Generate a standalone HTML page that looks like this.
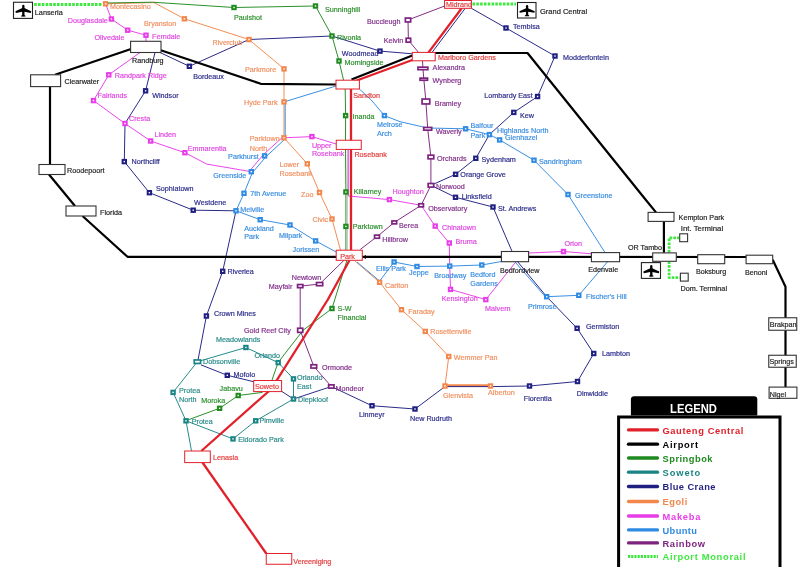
<!DOCTYPE html>
<html><head><meta charset="utf-8"><style>
html,body{margin:0;padding:0;background:#fff;width:800px;height:567px;overflow:hidden}
svg{display:block;font-family:"Liberation Sans",sans-serif;will-change:transform}
</style></head><body>
<svg width="800" height="567" viewBox="0 0 800 567">
<rect width="800" height="567" fill="#fff"/>
<polyline points="105.60,3.80 154.00,2.60 184.40,18.80 249.00,39.50 284.00,68.90 284.00,101.90 284.00,137.80 307.30,163.80 319.50,192.50 332.00,219.00 341.00,252.00" fill="none" stroke="#f2874c" stroke-width="0.95" stroke-linejoin="round" />
<polyline points="355.00,261.00 379.60,282.30 401.50,309.70 425.30,331.40 448.75,356.50 445.00,386.00 490.50,386.00" fill="none" stroke="#f2874c" stroke-width="0.95" stroke-linejoin="round" />
<polyline points="445.00,385.20 490.50,385.20" fill="none" stroke="#f2874c" stroke-width="2" stroke-linejoin="round" />
<polyline points="105.60,3.00 152.50,2.20 234.00,7.50 315.50,6.00 332.00,36.00 339.00,61.00 344.00,82.00" fill="none" stroke="#1f8a1f" stroke-width="0.95" stroke-linejoin="round" />
<polyline points="345.20,89.00 345.60,115.60 345.50,140.00" fill="none" stroke="#1f8a1f" stroke-width="0.95" stroke-linejoin="round" />
<polyline points="345.50,149.00 345.90,192.00 345.90,226.40 345.90,250.00" fill="none" stroke="#1f8a1f" stroke-width="0.95" stroke-linejoin="round" />
<polyline points="347.00,260.00 332.00,308.50 303.00,330.30 278.10,362.50 272.00,380.00" fill="none" stroke="#1f8a1f" stroke-width="0.95" stroke-linejoin="round" />
<polyline points="262.50,392.40 238.20,395.50 219.60,408.30 185.80,420.70" fill="none" stroke="#1f8a1f" stroke-width="0.95" stroke-linejoin="round" />
<polyline points="347.40,149.40 347.40,250.20" fill="none" stroke="#93a898" stroke-width="0.6" stroke-linejoin="round" />
<polyline points="197.40,361.70 245.90,347.50 278.20,362.60 293.50,378.90 293.50,399.00 255.70,420.80 233.00,438.90 186.00,420.80 173.10,392.40 197.40,361.70" fill="none" stroke="#1a8484" stroke-width="0.95" stroke-linejoin="round" />
<polyline points="186.00,420.80 191.50,451.00" fill="none" stroke="#1a8484" stroke-width="0.95" stroke-linejoin="round" />
<polyline points="155.00,52.50 145.60,90.80 125.00,123.50 124.30,161.60 149.40,192.70 193.20,210.20 236.00,210.80 222.70,271.30 206.40,316.00 198.00,360.00" fill="none" stroke="#1f1f82" stroke-width="0.95" stroke-linejoin="round" />
<polyline points="201.00,364.90 227.30,375.30 254.00,381.80" fill="none" stroke="#1f1f82" stroke-width="0.95" stroke-linejoin="round" />
<polyline points="281.60,391.30 293.50,399.00 331.30,386.50 372.00,405.75 415.00,409.00 445.00,386.50" fill="none" stroke="#1f1f82" stroke-width="0.95" stroke-linejoin="round" />
<polyline points="445.00,386.60 490.50,386.60 529.50,386.00 577.50,381.50 593.75,353.50 577.10,328.30 546.70,296.70 517.60,261.70" fill="none" stroke="#1f1f82" stroke-width="0.95" stroke-linejoin="round" />
<polyline points="512.30,252.00 493.00,207.00 455.50,197.30 431.00,185.30 455.60,174.30 475.80,158.30 489.40,134.60 513.80,112.40 537.60,96.50 555.00,56.00 506.00,28.00 471.40,8.30" fill="none" stroke="#1f1f82" stroke-width="0.95" stroke-linejoin="round" />
<polyline points="465.20,8.30 431.70,52.90" fill="none" stroke="#1f1f82" stroke-width="0.95" stroke-linejoin="round" />
<polyline points="412.30,53.80 380.00,51.10 332.00,36.00 249.00,39.50 189.40,66.30 160.00,52.50" fill="none" stroke="#1f1f82" stroke-width="0.95" stroke-linejoin="round" />
<polyline points="105.60,3.80 111.40,19.00 127.70,30.20 146.00,35.20 146.00,41.30" fill="none" stroke="#e83ce8" stroke-width="0.95" stroke-linejoin="round" />
<polyline points="140.00,52.50 108.80,74.80 93.50,100.60 125.00,123.50 150.60,141.00 184.90,152.70 206.80,164.10 251.30,171.70" fill="none" stroke="#e83ce8" stroke-width="0.95" stroke-linejoin="round" />
<polyline points="250.00,170.50 263.30,154.70 283.00,136.80" fill="none" stroke="#e83ce8" stroke-width="0.95" stroke-linejoin="round" />
<polyline points="284.00,137.80 311.90,136.60 336.20,144.00" fill="none" stroke="#e83ce8" stroke-width="0.95" stroke-linejoin="round" />
<polyline points="348.30,149.40 348.30,196.00 389.40,199.60 421.10,205.30 435.20,226.10 449.30,243.00 449.70,266.10 450.50,289.40 485.80,299.60 515.80,262.00" fill="none" stroke="#e83ce8" stroke-width="0.95" stroke-linejoin="round" />
<polyline points="528.60,253.00 563.50,251.50 591.40,253.80" fill="none" stroke="#e83ce8" stroke-width="0.95" stroke-linejoin="round" />
<polyline points="605.00,252.60 568.00,194.50 534.00,160.20 499.60,139.90 489.40,134.60 465.60,128.80 427.70,128.00 400.00,121.70 384.40,115.60 371.25,100.00 359.40,89.00" fill="none" stroke="#2e8ae2" stroke-width="0.95" stroke-linejoin="round" />
<polyline points="336.00,86.00 284.00,101.90" fill="none" stroke="#2e8ae2" stroke-width="0.95" stroke-linejoin="round" />
<polyline points="285.20,101.90 285.20,138.80" fill="none" stroke="#2e8ae2" stroke-width="0.95" stroke-linejoin="round" />
<polyline points="285.20,138.80 265.70,157.00 252.30,172.80 244.00,193.30 236.00,210.80 260.20,219.70 290.00,225.00 315.60,240.90 336.20,252.00" fill="none" stroke="#2e8ae2" stroke-width="0.95" stroke-linejoin="round" />
<polyline points="357.00,262.00 379.60,281.00 394.10,262.00 417.00,266.50 449.70,266.10 481.80,265.00 501.40,261.50" fill="none" stroke="#2e8ae2" stroke-width="0.95" stroke-linejoin="round" />
<polyline points="514.80,261.70 545.50,296.90 546.70,296.70 578.80,295.30 607.60,261.70" fill="none" stroke="#2e8ae2" stroke-width="0.95" stroke-linejoin="round" />
<polyline points="444.60,6.00 408.00,20.00 408.40,40.20 418.50,52.40" fill="none" stroke="#7c237f" stroke-width="0.95" stroke-linejoin="round" />
<polyline points="422.50,60.80 422.90,67.90 423.80,79.00 425.90,101.50 427.70,128.80 430.90,157.00 430.90,185.30 421.10,205.30 394.30,222.40 377.00,236.70 360.30,249.40" fill="none" stroke="#7c237f" stroke-width="0.95" stroke-linejoin="round" />
<polyline points="344.00,260.30 319.60,284.10 300.20,286.10 300.20,330.30 313.80,366.40 331.30,386.50" fill="none" stroke="#7c237f" stroke-width="0.95" stroke-linejoin="round" />
<polyline points="55.00,74.80 131.00,49.00" fill="none" stroke="#000" stroke-width="2.2" stroke-linejoin="round" />
<polyline points="160.00,50.00 260.80,83.80 336.00,84.50" fill="none" stroke="#000" stroke-width="2.2" stroke-linejoin="round" />
<polyline points="351.50,79.40 412.30,55.60" fill="none" stroke="#000" stroke-width="2.2" stroke-linejoin="round" />
<polyline points="435.00,53.00 527.50,53.00 645.90,200.00 656.00,212.40" fill="none" stroke="#000" stroke-width="2.2" stroke-linejoin="round" />
<polyline points="663.90,221.40 663.90,252.90" fill="none" stroke="#000" stroke-width="2.2" stroke-linejoin="round" />
<polyline points="50.00,86.60 50.00,164.50" fill="none" stroke="#000" stroke-width="2.2" stroke-linejoin="round" />
<polyline points="49.00,174.50 75.00,206.00" fill="none" stroke="#000" stroke-width="2.2" stroke-linejoin="round" />
<polyline points="82.50,216.00 127.50,256.80 772.70,257.00" fill="none" stroke="#000" stroke-width="2.2" stroke-linejoin="round" />
<polyline points="772.70,259.70 785.50,286.70 785.50,387.00" fill="none" stroke="#000" stroke-width="2.2" stroke-linejoin="round" />
<polyline points="461.70,8.30 428.20,52.90" fill="none" stroke="#e2202a" stroke-width="2.3" stroke-linejoin="round" />
<polyline points="412.30,60.00 354.10,81.50" fill="none" stroke="#e2202a" stroke-width="2.3" stroke-linejoin="round" />
<polyline points="351.00,89.00 351.00,250.20" fill="none" stroke="#e2202a" stroke-width="2.3" stroke-linejoin="round" />
<polyline points="349.50,260.30 327.60,300.00 277.30,379.40 268.50,391.50 201.30,451.00" fill="none" stroke="#e2202a" stroke-width="2.3" stroke-linejoin="round" />
<polyline points="202.50,462.50 266.25,553.50" fill="none" stroke="#e2202a" stroke-width="2.3" stroke-linejoin="round" />
<polyline points="34.20,4.50 102.00,4.50" fill="none" stroke="#3ee83e" stroke-width="2.8" stroke-linejoin="round" stroke-dasharray="2.6,1.2"/>
<polyline points="472.50,4.00 516.00,4.00" fill="none" stroke="#3ee83e" stroke-width="2.8" stroke-linejoin="round" stroke-dasharray="2.6,1.2"/>
<polyline points="679.70,237.80 669.10,237.80 669.10,252.90" fill="none" stroke="#3ee83e" stroke-width="2.8" stroke-linejoin="round" stroke-dasharray="2.6,1.2"/>
<polyline points="669.10,261.30 669.10,277.70 679.70,277.70" fill="none" stroke="#3ee83e" stroke-width="2.8" stroke-linejoin="round" stroke-dasharray="2.6,1.2"/>
<rect x="130.60" y="41.30" width="30.40" height="11.20" fill="#fff" stroke="#333" stroke-width="1.1"/>
<rect x="30.60" y="74.80" width="30.00" height="11.80" fill="#fff" stroke="#333" stroke-width="1.1"/>
<rect x="39.00" y="164.50" width="26.00" height="10.00" fill="#fff" stroke="#333" stroke-width="1.1"/>
<rect x="66.00" y="206.00" width="30.00" height="10.00" fill="#fff" stroke="#333" stroke-width="1.1"/>
<rect x="501.40" y="251.50" width="27.20" height="10.20" fill="#fff" stroke="#333" stroke-width="1.1"/>
<rect x="591.40" y="252.60" width="28.20" height="9.10" fill="#fff" stroke="#333" stroke-width="1.1"/>
<rect x="648.10" y="212.40" width="25.90" height="9.00" fill="#fff" stroke="#333" stroke-width="1.1"/>
<rect x="652.70" y="252.90" width="23.60" height="8.40" fill="#fff" stroke="#333" stroke-width="1.1"/>
<rect x="697.70" y="254.70" width="27.00" height="9.00" fill="#fff" stroke="#333" stroke-width="1.1"/>
<rect x="746.10" y="255.20" width="26.60" height="8.50" fill="#fff" stroke="#333" stroke-width="1.1"/>
<rect x="768.75" y="317.75" width="28.00" height="12.50" fill="#fff" stroke="#333" stroke-width="1.1"/>
<rect x="768.75" y="355.25" width="27.50" height="12.00" fill="#fff" stroke="#333" stroke-width="1.1"/>
<rect x="769.10" y="387.10" width="27.80" height="11.20" fill="#fff" stroke="#333" stroke-width="1.1"/>
<rect x="679.70" y="233.80" width="7.90" height="7.90" fill="#fff" stroke="#333" stroke-width="1.1"/>
<rect x="680.40" y="273.20" width="7.80" height="7.90" fill="#fff" stroke="#333" stroke-width="1.1"/>
<rect x="444.60" y="0.50" width="26.80" height="7.80" fill="#fff" stroke="#e2202a" stroke-width="1"/>
<rect x="412.30" y="52.40" width="22.90" height="8.40" fill="#fff" stroke="#e2202a" stroke-width="1"/>
<rect x="336.00" y="80.20" width="23.40" height="8.80" fill="#fff" stroke="#e2202a" stroke-width="1"/>
<rect x="336.25" y="140.25" width="25.00" height="9.15" fill="#fff" stroke="#e2202a" stroke-width="1"/>
<rect x="336.20" y="250.20" width="26.10" height="10.10" fill="#fff" stroke="#e2202a" stroke-width="1"/>
<rect x="253.70" y="380.50" width="27.90" height="11.10" fill="#fff" stroke="#e2202a" stroke-width="1"/>
<rect x="184.70" y="451.00" width="25.60" height="11.60" fill="#fff" stroke="#e2202a" stroke-width="1"/>
<rect x="266.25" y="553.50" width="25.50" height="10.75" fill="#fff" stroke="#e2202a" stroke-width="1"/>
<path d="M362.2,257 L366,254.9 L366,259.1 Z" fill="#000"/>
<rect x="13.50" y="2.25" width="19.00" height="16.15" fill="#fff" stroke="#222" stroke-width="1.1"/>
<g transform="translate(13.50,2.25) scale(0.969,0.979)" fill="#000">
<path d="M8.95,4 Q8.95,2.6 10.15,2.6 Q11.35,2.6 11.35,4 L11.35,14.4 L8.95,14.4 Z"/>
<path d="M9.1,6.0 L2.0,9.3 L2.4,11.0 L9.1,9.8 L11.1,9.8 L17.9,11.0 L18.3,9.3 L11.1,6.0 Z"/>
<path d="M9.4,12.9 L7.8,13.8 L7.8,14.6 L12.4,14.6 L12.4,13.8 L10.8,12.9 Z"/>
</g>
<rect x="517.50" y="2.50" width="18.50" height="15.50" fill="#fff" stroke="#222" stroke-width="1.1"/>
<g transform="translate(517.50,2.50) scale(0.944,0.939)" fill="#000">
<path d="M8.95,4 Q8.95,2.6 10.15,2.6 Q11.35,2.6 11.35,4 L11.35,14.4 L8.95,14.4 Z"/>
<path d="M9.1,6.0 L2.0,9.3 L2.4,11.0 L9.1,9.8 L11.1,9.8 L17.9,11.0 L18.3,9.3 L11.1,6.0 Z"/>
<path d="M9.4,12.9 L7.8,13.8 L7.8,14.6 L12.4,14.6 L12.4,13.8 L10.8,12.9 Z"/>
</g>
<rect x="641.40" y="262.60" width="19.10" height="15.80" fill="#fff" stroke="#222" stroke-width="1.1"/>
<g transform="translate(641.40,262.60) scale(0.974,0.958)" fill="#000">
<path d="M8.95,4 Q8.95,2.6 10.15,2.6 Q11.35,2.6 11.35,4 L11.35,14.4 L8.95,14.4 Z"/>
<path d="M9.1,6.0 L2.0,9.3 L2.4,11.0 L9.1,9.8 L11.1,9.8 L17.9,11.0 L18.3,9.3 L11.1,6.0 Z"/>
<path d="M9.4,12.9 L7.8,13.8 L7.8,14.6 L12.4,14.6 L12.4,13.8 L10.8,12.9 Z"/>
</g>
<rect x="103.90" y="2.10" width="3.40" height="3.40" fill="#fff" stroke="#f2874c" stroke-width="2.0"/>
<rect x="182.70" y="17.10" width="3.40" height="3.40" fill="#fff" stroke="#f2874c" stroke-width="2.0"/>
<rect x="247.30" y="37.80" width="3.40" height="3.40" fill="#fff" stroke="#f2874c" stroke-width="2.0"/>
<rect x="282.30" y="67.20" width="3.40" height="3.40" fill="#fff" stroke="#f2874c" stroke-width="2.0"/>
<rect x="282.30" y="100.20" width="3.40" height="3.40" fill="#fff" stroke="#f2874c" stroke-width="2.0"/>
<rect x="282.30" y="136.10" width="3.40" height="3.40" fill="#fff" stroke="#f2874c" stroke-width="2.0"/>
<rect x="305.60" y="162.10" width="3.40" height="3.40" fill="#fff" stroke="#f2874c" stroke-width="2.0"/>
<rect x="317.80" y="190.80" width="3.40" height="3.40" fill="#fff" stroke="#f2874c" stroke-width="2.0"/>
<rect x="330.30" y="217.30" width="3.40" height="3.40" fill="#fff" stroke="#f2874c" stroke-width="2.0"/>
<rect x="377.90" y="280.60" width="3.40" height="3.40" fill="#fff" stroke="#f2874c" stroke-width="2.0"/>
<rect x="399.80" y="308.00" width="3.40" height="3.40" fill="#fff" stroke="#f2874c" stroke-width="2.0"/>
<rect x="423.60" y="329.70" width="3.40" height="3.40" fill="#fff" stroke="#f2874c" stroke-width="2.0"/>
<rect x="447.05" y="354.80" width="3.40" height="3.40" fill="#fff" stroke="#f2874c" stroke-width="2.0"/>
<rect x="443.30" y="384.30" width="3.40" height="3.40" fill="#fff" stroke="#f2874c" stroke-width="2.0"/>
<rect x="488.80" y="384.30" width="3.40" height="3.40" fill="#fff" stroke="#f2874c" stroke-width="2.0"/>
<rect x="232.30" y="5.80" width="3.40" height="3.40" fill="#fff" stroke="#1f8a1f" stroke-width="2.0"/>
<rect x="313.80" y="4.30" width="3.40" height="3.40" fill="#fff" stroke="#1f8a1f" stroke-width="2.0"/>
<rect x="330.30" y="34.30" width="3.40" height="3.40" fill="#fff" stroke="#1f8a1f" stroke-width="2.0"/>
<rect x="337.30" y="59.30" width="3.40" height="3.40" fill="#fff" stroke="#1f8a1f" stroke-width="2.0"/>
<rect x="343.90" y="113.90" width="3.40" height="3.40" fill="#fff" stroke="#1f8a1f" stroke-width="2.0"/>
<rect x="344.20" y="190.30" width="3.40" height="3.40" fill="#fff" stroke="#1f8a1f" stroke-width="2.0"/>
<rect x="344.20" y="224.70" width="3.40" height="3.40" fill="#fff" stroke="#1f8a1f" stroke-width="2.0"/>
<rect x="330.30" y="306.80" width="3.40" height="3.40" fill="#fff" stroke="#1f8a1f" stroke-width="2.0"/>
<rect x="236.50" y="393.80" width="3.40" height="3.40" fill="#fff" stroke="#1f8a1f" stroke-width="2.0"/>
<rect x="217.90" y="406.60" width="3.40" height="3.40" fill="#fff" stroke="#1f8a1f" stroke-width="2.0"/>
<rect x="244.20" y="345.80" width="3.40" height="3.40" fill="#fff" stroke="#1a8484" stroke-width="2.0"/>
<rect x="276.50" y="360.90" width="3.40" height="3.40" fill="#fff" stroke="#1a8484" stroke-width="2.0"/>
<rect x="291.80" y="377.20" width="3.40" height="3.40" fill="#fff" stroke="#1a8484" stroke-width="2.0"/>
<rect x="291.80" y="397.30" width="3.40" height="3.40" fill="#fff" stroke="#1a8484" stroke-width="2.0"/>
<rect x="254.00" y="419.10" width="3.40" height="3.40" fill="#fff" stroke="#1a8484" stroke-width="2.0"/>
<rect x="231.30" y="437.20" width="3.40" height="3.40" fill="#fff" stroke="#1a8484" stroke-width="2.0"/>
<rect x="184.30" y="419.10" width="3.40" height="3.40" fill="#fff" stroke="#1a8484" stroke-width="2.0"/>
<rect x="171.40" y="390.70" width="3.40" height="3.40" fill="#fff" stroke="#1a8484" stroke-width="2.0"/>
<rect x="194.25" y="359.95" width="6.30" height="3.50" fill="#fff" stroke="#1a8484" stroke-width="1.70"/>
<rect x="187.70" y="64.60" width="3.40" height="3.40" fill="#fff" stroke="#1f1f82" stroke-width="2.0"/>
<rect x="143.90" y="89.10" width="3.40" height="3.40" fill="#fff" stroke="#1f1f82" stroke-width="2.0"/>
<rect x="122.60" y="159.90" width="3.40" height="3.40" fill="#fff" stroke="#1f1f82" stroke-width="2.0"/>
<rect x="147.70" y="191.00" width="3.40" height="3.40" fill="#fff" stroke="#1f1f82" stroke-width="2.0"/>
<rect x="191.50" y="208.50" width="3.40" height="3.40" fill="#fff" stroke="#1f1f82" stroke-width="2.0"/>
<rect x="221.00" y="269.60" width="3.40" height="3.40" fill="#fff" stroke="#1f1f82" stroke-width="2.0"/>
<rect x="204.70" y="314.30" width="3.40" height="3.40" fill="#fff" stroke="#1f1f82" stroke-width="2.0"/>
<rect x="225.60" y="373.60" width="3.40" height="3.40" fill="#fff" stroke="#1f1f82" stroke-width="2.0"/>
<rect x="378.30" y="49.40" width="3.40" height="3.40" fill="#fff" stroke="#1f1f82" stroke-width="2.0"/>
<rect x="504.30" y="26.30" width="3.40" height="3.40" fill="#fff" stroke="#1f1f82" stroke-width="2.0"/>
<rect x="553.30" y="54.30" width="3.40" height="3.40" fill="#fff" stroke="#1f1f82" stroke-width="2.0"/>
<rect x="535.90" y="94.80" width="3.40" height="3.40" fill="#fff" stroke="#1f1f82" stroke-width="2.0"/>
<rect x="512.10" y="110.70" width="3.40" height="3.40" fill="#fff" stroke="#1f1f82" stroke-width="2.0"/>
<rect x="474.10" y="156.60" width="3.40" height="3.40" fill="#fff" stroke="#1f1f82" stroke-width="2.0"/>
<rect x="453.90" y="172.60" width="3.40" height="3.40" fill="#fff" stroke="#1f1f82" stroke-width="2.0"/>
<rect x="453.80" y="195.60" width="3.40" height="3.40" fill="#fff" stroke="#1f1f82" stroke-width="2.0"/>
<rect x="491.30" y="205.30" width="3.40" height="3.40" fill="#fff" stroke="#1f1f82" stroke-width="2.0"/>
<rect x="575.40" y="326.60" width="3.40" height="3.40" fill="#fff" stroke="#1f1f82" stroke-width="2.0"/>
<rect x="592.05" y="351.80" width="3.40" height="3.40" fill="#fff" stroke="#1f1f82" stroke-width="2.0"/>
<rect x="575.80" y="379.80" width="3.40" height="3.40" fill="#fff" stroke="#1f1f82" stroke-width="2.0"/>
<rect x="527.80" y="384.30" width="3.40" height="3.40" fill="#fff" stroke="#1f1f82" stroke-width="2.0"/>
<rect x="370.30" y="404.05" width="3.40" height="3.40" fill="#fff" stroke="#1f1f82" stroke-width="2.0"/>
<rect x="413.30" y="407.30" width="3.40" height="3.40" fill="#fff" stroke="#1f1f82" stroke-width="2.0"/>
<rect x="109.70" y="17.30" width="3.40" height="3.40" fill="#fff" stroke="#e83ce8" stroke-width="2.0"/>
<rect x="126.00" y="28.50" width="3.40" height="3.40" fill="#fff" stroke="#e83ce8" stroke-width="2.0"/>
<rect x="144.30" y="33.50" width="3.40" height="3.40" fill="#fff" stroke="#e83ce8" stroke-width="2.0"/>
<rect x="107.10" y="73.10" width="3.40" height="3.40" fill="#fff" stroke="#e83ce8" stroke-width="2.0"/>
<rect x="91.80" y="98.90" width="3.40" height="3.40" fill="#fff" stroke="#e83ce8" stroke-width="2.0"/>
<rect x="123.30" y="121.80" width="3.40" height="3.40" fill="#fff" stroke="#e83ce8" stroke-width="2.0"/>
<rect x="148.90" y="139.30" width="3.40" height="3.40" fill="#fff" stroke="#e83ce8" stroke-width="2.0"/>
<rect x="183.20" y="151.00" width="3.40" height="3.40" fill="#fff" stroke="#e83ce8" stroke-width="2.0"/>
<rect x="310.20" y="134.90" width="3.40" height="3.40" fill="#fff" stroke="#e83ce8" stroke-width="2.0"/>
<rect x="387.70" y="197.90" width="3.40" height="3.40" fill="#fff" stroke="#e83ce8" stroke-width="2.0"/>
<rect x="433.50" y="224.40" width="3.40" height="3.40" fill="#fff" stroke="#e83ce8" stroke-width="2.0"/>
<rect x="447.60" y="241.30" width="3.40" height="3.40" fill="#fff" stroke="#e83ce8" stroke-width="2.0"/>
<rect x="448.80" y="287.70" width="3.40" height="3.40" fill="#fff" stroke="#e83ce8" stroke-width="2.0"/>
<rect x="484.10" y="297.90" width="3.40" height="3.40" fill="#fff" stroke="#e83ce8" stroke-width="2.0"/>
<rect x="561.80" y="249.80" width="3.40" height="3.40" fill="#fff" stroke="#e83ce8" stroke-width="2.0"/>
<rect x="249.60" y="170.00" width="3.40" height="3.40" fill="#fff" stroke="#2e8ae2" stroke-width="2.0"/>
<rect x="262.90" y="154.20" width="3.40" height="3.40" fill="#fff" stroke="#2e8ae2" stroke-width="2.0"/>
<rect x="242.30" y="191.60" width="3.40" height="3.40" fill="#fff" stroke="#2e8ae2" stroke-width="2.0"/>
<rect x="234.30" y="209.10" width="3.40" height="3.40" fill="#fff" stroke="#2e8ae2" stroke-width="2.0"/>
<rect x="258.50" y="218.00" width="3.40" height="3.40" fill="#fff" stroke="#2e8ae2" stroke-width="2.0"/>
<rect x="288.30" y="223.30" width="3.40" height="3.40" fill="#fff" stroke="#2e8ae2" stroke-width="2.0"/>
<rect x="313.90" y="239.20" width="3.40" height="3.40" fill="#fff" stroke="#2e8ae2" stroke-width="2.0"/>
<rect x="382.70" y="113.90" width="3.40" height="3.40" fill="#fff" stroke="#2e8ae2" stroke-width="2.0"/>
<rect x="463.90" y="127.10" width="3.40" height="3.40" fill="#fff" stroke="#2e8ae2" stroke-width="2.0"/>
<rect x="487.70" y="132.90" width="3.40" height="3.40" fill="#fff" stroke="#2e8ae2" stroke-width="2.0"/>
<rect x="497.90" y="138.20" width="3.40" height="3.40" fill="#fff" stroke="#2e8ae2" stroke-width="2.0"/>
<rect x="532.30" y="158.50" width="3.40" height="3.40" fill="#fff" stroke="#2e8ae2" stroke-width="2.0"/>
<rect x="566.30" y="192.80" width="3.40" height="3.40" fill="#fff" stroke="#2e8ae2" stroke-width="2.0"/>
<rect x="392.40" y="260.30" width="3.40" height="3.40" fill="#fff" stroke="#2e8ae2" stroke-width="2.0"/>
<rect x="415.30" y="264.80" width="3.40" height="3.40" fill="#fff" stroke="#2e8ae2" stroke-width="2.0"/>
<rect x="448.00" y="264.40" width="3.40" height="3.40" fill="#fff" stroke="#2e8ae2" stroke-width="2.0"/>
<rect x="480.10" y="263.30" width="3.40" height="3.40" fill="#fff" stroke="#2e8ae2" stroke-width="2.0"/>
<rect x="545.00" y="295.00" width="3.40" height="3.40" fill="#fff" stroke="#2e8ae2" stroke-width="2.0"/>
<rect x="577.10" y="293.60" width="3.40" height="3.40" fill="#fff" stroke="#2e8ae2" stroke-width="2.0"/>
<rect x="405.35" y="18.05" width="5.30" height="3.90" fill="#fff" stroke="#7c237f" stroke-width="1.70"/>
<rect x="406.15" y="38.25" width="4.50" height="3.90" fill="#fff" stroke="#7c237f" stroke-width="1.70"/>
<rect x="417.95" y="67.15" width="9.90" height="2.50" fill="#fff" stroke="#7c237f" stroke-width="1.70"/>
<rect x="420.05" y="78.15" width="7.50" height="2.10" fill="#fff" stroke="#7c237f" stroke-width="1.70"/>
<rect x="422.05" y="99.05" width="7.70" height="4.90" fill="#fff" stroke="#7c237f" stroke-width="1.70"/>
<rect x="423.70" y="127.45" width="8.00" height="2.70" fill="#fff" stroke="#7c237f" stroke-width="1.70"/>
<rect x="428.05" y="155.20" width="5.70" height="3.60" fill="#fff" stroke="#7c237f" stroke-width="1.70"/>
<rect x="428.15" y="183.50" width="5.50" height="3.60" fill="#fff" stroke="#7c237f" stroke-width="1.70"/>
<rect x="418.75" y="203.75" width="4.70" height="3.10" fill="#fff" stroke="#7c237f" stroke-width="1.70"/>
<rect x="391.95" y="220.95" width="4.70" height="2.90" fill="#fff" stroke="#7c237f" stroke-width="1.70"/>
<rect x="374.55" y="235.15" width="4.90" height="3.10" fill="#fff" stroke="#7c237f" stroke-width="1.70"/>
<rect x="316.50" y="282.50" width="6.20" height="3.20" fill="#fff" stroke="#7c237f" stroke-width="1.70"/>
<rect x="297.55" y="284.55" width="5.30" height="3.10" fill="#fff" stroke="#7c237f" stroke-width="1.70"/>
<rect x="297.65" y="328.25" width="5.10" height="4.10" fill="#fff" stroke="#7c237f" stroke-width="1.70"/>
<rect x="310.95" y="364.75" width="5.70" height="3.30" fill="#fff" stroke="#7c237f" stroke-width="1.70"/>
<rect x="328.65" y="384.85" width="5.30" height="3.30" fill="#fff" stroke="#7c237f" stroke-width="1.70"/>
<text x="34.80" y="15.30" fill="#1e1e1e" stroke="#1e1e1e" stroke-width="0.18" font-size="7.3" >Lanseria</text>
<text x="540.00" y="13.80" fill="#1e1e1e" stroke="#1e1e1e" stroke-width="0.18" font-size="7.5" >Grand Central</text>
<text x="132.00" y="62.70" fill="#1e1e1e" stroke="#1e1e1e" stroke-width="0.18" font-size="7.2" >Randburg</text>
<text x="64.50" y="83.60" fill="#1e1e1e" stroke="#1e1e1e" stroke-width="0.18" font-size="7.2" >Clearwater</text>
<text x="67.00" y="172.60" fill="#1e1e1e" stroke="#1e1e1e" stroke-width="0.18" font-size="7.2" >Roodepoort</text>
<text x="100.00" y="214.60" fill="#1e1e1e" stroke="#1e1e1e" stroke-width="0.18" font-size="7.2" >Florida</text>
<text x="500.00" y="273.20" fill="#1e1e1e" stroke="#1e1e1e" stroke-width="0.18" font-size="7.2" >Bedfordview</text>
<text x="588.20" y="272.00" fill="#1e1e1e" stroke="#1e1e1e" stroke-width="0.18" font-size="7.2" >Edenvale</text>
<text x="627.90" y="250.20" fill="#1e1e1e" stroke="#1e1e1e" stroke-width="0.18" font-size="7.2" >OR Tambo</text>
<text x="678.60" y="219.60" fill="#1e1e1e" stroke="#1e1e1e" stroke-width="0.18" font-size="7.2" >Kempton Park</text>
<text x="680.80" y="230.90" fill="#1e1e1e" stroke="#1e1e1e" stroke-width="0.18" font-size="7.8" >Int. Terminal</text>
<text x="680.40" y="290.50" fill="#1e1e1e" stroke="#1e1e1e" stroke-width="0.18" font-size="7.25" >Dom. Terminal</text>
<text x="695.90" y="273.90" fill="#1e1e1e" stroke="#1e1e1e" stroke-width="0.18" font-size="7.2" >Boksburg</text>
<text x="745.00" y="275.00" fill="#1e1e1e" stroke="#1e1e1e" stroke-width="0.18" font-size="7.2" >Benoni</text>
<text x="769.80" y="327.00" fill="#1e1e1e" stroke="#1e1e1e" stroke-width="0.18" font-size="7.2" >Brakpan</text>
<text x="769.50" y="364.00" fill="#1e1e1e" stroke="#1e1e1e" stroke-width="0.18" font-size="7.2" >Springs</text>
<text x="769.80" y="396.60" fill="#1e1e1e" stroke="#1e1e1e" stroke-width="0.18" font-size="7.2" >Nigel</text>
<text x="446.00" y="7.20" fill="#e23a3a" stroke="#e23a3a" stroke-width="0.18" font-size="7.2" >Midrand</text>
<text x="437.90" y="60.30" fill="#e23a3a" stroke="#e23a3a" stroke-width="0.18" font-size="7.2" >Marlboro Gardens</text>
<text x="353.20" y="97.50" fill="#e23a3a" stroke="#e23a3a" stroke-width="0.18" font-size="7.2" >Sandton</text>
<text x="354.40" y="157.00" fill="#e23a3a" stroke="#e23a3a" stroke-width="0.18" font-size="7.2" >Rosebank</text>
<text x="340.20" y="258.50" fill="#e23a3a" stroke="#e23a3a" stroke-width="0.18" font-size="7.2" >Park</text>
<text x="255.00" y="389.20" fill="#e23a3a" stroke="#e23a3a" stroke-width="0.18" font-size="7.2" >Soweto</text>
<text x="213.00" y="459.50" fill="#e23a3a" stroke="#e23a3a" stroke-width="0.18" font-size="7.2" >Lenasia</text>
<text x="293.25" y="563.50" fill="#e23a3a" stroke="#e23a3a" stroke-width="0.18" font-size="7.2" >Vereeniging</text>
<text x="110.00" y="9.00" fill="#f09060" stroke="#f09060" stroke-width="0.18" font-size="7.2" >Montecasino</text>
<text x="144.00" y="25.70" fill="#f09060" stroke="#f09060" stroke-width="0.18" font-size="7.2" >Bryanston</text>
<text x="212.50" y="44.50" fill="#f09060" stroke="#f09060" stroke-width="0.18" font-size="7.2" >Riverclub</text>
<text x="245.00" y="72.10" fill="#f09060" stroke="#f09060" stroke-width="0.18" font-size="7.2" >Parkmore</text>
<text x="244.00" y="105.40" fill="#f09060" stroke="#f09060" stroke-width="0.18" font-size="7.2" >Hyde Park</text>
<text x="249.75" y="141.00" fill="#f09060" stroke="#f09060" stroke-width="0.18" font-size="7.2" >Parktown</text>
<text x="249.75" y="150.60" fill="#f09060" stroke="#f09060" stroke-width="0.18" font-size="7.2" >North</text>
<text x="279.50" y="166.50" fill="#f09060" stroke="#f09060" stroke-width="0.18" font-size="7.2" >Lower</text>
<text x="279.50" y="175.50" fill="#f09060" stroke="#f09060" stroke-width="0.18" font-size="7.2" >Rosebank</text>
<text x="301.00" y="197.00" fill="#f09060" stroke="#f09060" stroke-width="0.18" font-size="7.2" >Zoo</text>
<text x="312.50" y="221.50" fill="#f09060" stroke="#f09060" stroke-width="0.18" font-size="7.2" >Civic</text>
<text x="385.00" y="288.00" fill="#f09060" stroke="#f09060" stroke-width="0.18" font-size="7.2" >Carlton</text>
<text x="408.20" y="313.70" fill="#f09060" stroke="#f09060" stroke-width="0.18" font-size="7.2" >Faraday</text>
<text x="430.30" y="333.80" fill="#f09060" stroke="#f09060" stroke-width="0.18" font-size="7.2" >Rosettenville</text>
<text x="453.75" y="359.75" fill="#f09060" stroke="#f09060" stroke-width="0.18" font-size="7.2" >Wemmer Pan</text>
<text x="443.00" y="397.75" fill="#f09060" stroke="#f09060" stroke-width="0.18" font-size="7.2" >Glenvista</text>
<text x="488.00" y="395.25" fill="#f09060" stroke="#f09060" stroke-width="0.18" font-size="7.2" >Alberton</text>
<text x="234.00" y="20.00" fill="#2b8f2b" stroke="#2b8f2b" stroke-width="0.18" font-size="7.2" >Paulshot</text>
<text x="325.00" y="11.50" fill="#2b8f2b" stroke="#2b8f2b" stroke-width="0.18" font-size="7.2" >Sunninghill</text>
<text x="337.00" y="39.70" fill="#2b8f2b" stroke="#2b8f2b" stroke-width="0.18" font-size="7.2" >Rivonia</text>
<text x="344.40" y="64.80" fill="#2b8f2b" stroke="#2b8f2b" stroke-width="0.18" font-size="7.2" >Morningside</text>
<text x="352.50" y="119.40" fill="#2b8f2b" stroke="#2b8f2b" stroke-width="0.18" font-size="7.2" >Inanda</text>
<text x="353.80" y="194.20" fill="#2b8f2b" stroke="#2b8f2b" stroke-width="0.18" font-size="7.2" >Killarney</text>
<text x="352.70" y="229.10" fill="#2b8f2b" stroke="#2b8f2b" stroke-width="0.18" font-size="7.2" >Parktown</text>
<text x="337.60" y="310.50" fill="#2b8f2b" stroke="#2b8f2b" stroke-width="0.18" font-size="7.2" >S-W</text>
<text x="337.60" y="319.70" fill="#2b8f2b" stroke="#2b8f2b" stroke-width="0.18" font-size="7.2" >Financial</text>
<text x="219.60" y="391.30" fill="#2b8f2b" stroke="#2b8f2b" stroke-width="0.18" font-size="7.2" >Jabavu</text>
<text x="201.20" y="403.40" fill="#2b8f2b" stroke="#2b8f2b" stroke-width="0.18" font-size="7.2" >Moroka</text>
<text x="216.00" y="342.30" fill="#2a8a8a" stroke="#2a8a8a" stroke-width="0.18" font-size="7.2" >Meadowlands</text>
<text x="254.50" y="357.70" fill="#2a8a8a" stroke="#2a8a8a" stroke-width="0.18" font-size="7.2" >Orlando</text>
<text x="297.00" y="379.50" fill="#2a8a8a" stroke="#2a8a8a" stroke-width="0.18" font-size="7.2" >Orlando</text>
<text x="297.00" y="389.00" fill="#2a8a8a" stroke="#2a8a8a" stroke-width="0.18" font-size="7.2" >East</text>
<text x="298.00" y="402.00" fill="#2a8a8a" stroke="#2a8a8a" stroke-width="0.18" font-size="7.2" >Diepkloof</text>
<text x="259.40" y="422.60" fill="#2a8a8a" stroke="#2a8a8a" stroke-width="0.18" font-size="7.2" >Pimville</text>
<text x="238.20" y="441.60" fill="#2a8a8a" stroke="#2a8a8a" stroke-width="0.18" font-size="7.2" >Eldorado Park</text>
<text x="191.70" y="423.70" fill="#2a8a8a" stroke="#2a8a8a" stroke-width="0.18" font-size="7.2" >Protea</text>
<text x="179.00" y="392.60" fill="#2a8a8a" stroke="#2a8a8a" stroke-width="0.18" font-size="7.2" >Protea</text>
<text x="179.00" y="401.70" fill="#2a8a8a" stroke="#2a8a8a" stroke-width="0.18" font-size="7.2" >North</text>
<text x="203.00" y="364.00" fill="#2a8a8a" stroke="#2a8a8a" stroke-width="0.18" font-size="7.2" >Dobsonville</text>
<text x="193.20" y="79.40" fill="#2b2b8a" stroke="#2b2b8a" stroke-width="0.18" font-size="7.2" >Bordeaux</text>
<text x="152.20" y="98.10" fill="#2b2b8a" stroke="#2b2b8a" stroke-width="0.18" font-size="7.2" >Windsor</text>
<text x="131.60" y="163.50" fill="#2b2b8a" stroke="#2b2b8a" stroke-width="0.18" font-size="7.2" >Northcliff</text>
<text x="156.00" y="191.40" fill="#2b2b8a" stroke="#2b2b8a" stroke-width="0.18" font-size="7.2" >Sophiatown</text>
<text x="194.10" y="204.80" fill="#2b2b8a" stroke="#2b2b8a" stroke-width="0.18" font-size="7.2" >Westdene</text>
<text x="227.50" y="273.50" fill="#2b2b8a" stroke="#2b2b8a" stroke-width="0.18" font-size="7.2" >Riverlea</text>
<text x="214.00" y="316.00" fill="#2b2b8a" stroke="#2b2b8a" stroke-width="0.18" font-size="7.2" >Crown Mines</text>
<text x="233.60" y="377.00" fill="#2b2b8a" stroke="#2b2b8a" stroke-width="0.18" font-size="7.2" >Mofolo</text>
<text x="341.80" y="56.40" fill="#2b2b8a" stroke="#2b2b8a" stroke-width="0.18" font-size="7.2" >Woodmead</text>
<text x="513.00" y="28.50" fill="#2b2b8a" stroke="#2b2b8a" stroke-width="0.18" font-size="7.2" >Tembisa</text>
<text x="563.00" y="60.00" fill="#2b2b8a" stroke="#2b2b8a" stroke-width="0.18" font-size="7.2" >Modderfontein</text>
<text x="484.30" y="98.30" fill="#2b2b8a" stroke="#2b2b8a" stroke-width="0.18" font-size="7.2" >Lombardy East</text>
<text x="520.00" y="118.20" fill="#2b2b8a" stroke="#2b2b8a" stroke-width="0.18" font-size="7.2" >Kew</text>
<text x="481.50" y="161.80" fill="#2b2b8a" stroke="#2b2b8a" stroke-width="0.18" font-size="7.2" >Sydenham</text>
<text x="460.30" y="177.00" fill="#2b2b8a" stroke="#2b2b8a" stroke-width="0.18" font-size="7.2" >Orange Grove</text>
<text x="461.70" y="198.60" fill="#2b2b8a" stroke="#2b2b8a" stroke-width="0.18" font-size="7.2" >Linksfield</text>
<text x="498.00" y="210.50" fill="#2b2b8a" stroke="#2b2b8a" stroke-width="0.18" font-size="7.2" >St. Andrews</text>
<text x="586.00" y="328.80" fill="#2b2b8a" stroke="#2b2b8a" stroke-width="0.18" font-size="7.2" >Germiston</text>
<text x="602.00" y="355.50" fill="#2b2b8a" stroke="#2b2b8a" stroke-width="0.18" font-size="7.2" >Lambton</text>
<text x="576.75" y="395.50" fill="#2b2b8a" stroke="#2b2b8a" stroke-width="0.18" font-size="7.2" >Dinwiddie</text>
<text x="523.75" y="400.50" fill="#2b2b8a" stroke="#2b2b8a" stroke-width="0.18" font-size="7.2" >Florentia</text>
<text x="359.00" y="417.25" fill="#2b2b8a" stroke="#2b2b8a" stroke-width="0.18" font-size="7.2" >Linmeyr</text>
<text x="410.00" y="421.00" fill="#2b2b8a" stroke="#2b2b8a" stroke-width="0.18" font-size="7.2" >New Rudruth</text>
<text x="67.80" y="23.20" fill="#e046e0" stroke="#e046e0" stroke-width="0.18" font-size="7.2" >Douglasdale</text>
<text x="94.50" y="39.50" fill="#e046e0" stroke="#e046e0" stroke-width="0.18" font-size="7.2" >Olivedale</text>
<text x="152.00" y="38.50" fill="#e046e0" stroke="#e046e0" stroke-width="0.18" font-size="7.2" >Ferndale</text>
<text x="114.80" y="77.50" fill="#e046e0" stroke="#e046e0" stroke-width="0.18" font-size="7.2" >Randpark Ridge</text>
<text x="97.50" y="97.50" fill="#e046e0" stroke="#e046e0" stroke-width="0.18" font-size="7.2" >Fairlands</text>
<text x="129.00" y="121.00" fill="#e046e0" stroke="#e046e0" stroke-width="0.18" font-size="7.2" >Cresta</text>
<text x="154.40" y="137.10" fill="#e046e0" stroke="#e046e0" stroke-width="0.18" font-size="7.2" >Linden</text>
<text x="187.80" y="150.50" fill="#e046e0" stroke="#e046e0" stroke-width="0.18" font-size="7.2" >Emmarentia</text>
<text x="311.90" y="147.50" fill="#e046e0" stroke="#e046e0" stroke-width="0.18" font-size="7.2" >Upper</text>
<text x="311.90" y="156.00" fill="#e046e0" stroke="#e046e0" stroke-width="0.18" font-size="7.2" >Rosebank</text>
<text x="392.60" y="194.20" fill="#e046e0" stroke="#e046e0" stroke-width="0.18" font-size="7.2" >Houghton</text>
<text x="442.00" y="230.00" fill="#e046e0" stroke="#e046e0" stroke-width="0.18" font-size="7.2" >Chinatown</text>
<text x="455.50" y="244.00" fill="#e046e0" stroke="#e046e0" stroke-width="0.18" font-size="7.2" >Bruma</text>
<text x="441.70" y="301.20" fill="#e046e0" stroke="#e046e0" stroke-width="0.18" font-size="7.2" >Kensington</text>
<text x="485.00" y="310.50" fill="#e046e0" stroke="#e046e0" stroke-width="0.18" font-size="7.2" >Malvern</text>
<text x="564.40" y="246.20" fill="#e046e0" stroke="#e046e0" stroke-width="0.18" font-size="7.2" >Orion</text>
<text x="377.00" y="127.00" fill="#3a8ee0" stroke="#3a8ee0" stroke-width="0.18" font-size="7.2" >Melrose</text>
<text x="377.00" y="136.00" fill="#3a8ee0" stroke="#3a8ee0" stroke-width="0.18" font-size="7.2" >Arch</text>
<text x="228.10" y="158.70" fill="#3a8ee0" stroke="#3a8ee0" stroke-width="0.18" font-size="7.2" >Parkhurst</text>
<text x="213.20" y="177.50" fill="#3a8ee0" stroke="#3a8ee0" stroke-width="0.18" font-size="7.2" >Greenside</text>
<text x="250.30" y="195.90" fill="#3a8ee0" stroke="#3a8ee0" stroke-width="0.18" font-size="7.2" >7th Avenue</text>
<text x="240.20" y="212.40" fill="#3a8ee0" stroke="#3a8ee0" stroke-width="0.18" font-size="7.2" >Melville</text>
<text x="244.30" y="230.50" fill="#3a8ee0" stroke="#3a8ee0" stroke-width="0.18" font-size="7.2" >Auckland</text>
<text x="244.30" y="239.40" fill="#3a8ee0" stroke="#3a8ee0" stroke-width="0.18" font-size="7.2" >Park</text>
<text x="279.00" y="237.50" fill="#3a8ee0" stroke="#3a8ee0" stroke-width="0.18" font-size="7.2" >Milpark</text>
<text x="292.60" y="252.00" fill="#3a8ee0" stroke="#3a8ee0" stroke-width="0.18" font-size="7.2" >Jorissen</text>
<text x="470.50" y="128.40" fill="#3a8ee0" stroke="#3a8ee0" stroke-width="0.18" font-size="7.2" >Balfour</text>
<text x="470.50" y="138.00" fill="#3a8ee0" stroke="#3a8ee0" stroke-width="0.18" font-size="7.2" >Park</text>
<text x="497.00" y="132.90" fill="#3a8ee0" stroke="#3a8ee0" stroke-width="0.18" font-size="7.2" >Highlands North</text>
<text x="505.00" y="139.70" fill="#3a8ee0" stroke="#3a8ee0" stroke-width="0.18" font-size="7.2" >Glenhazel</text>
<text x="539.00" y="164.00" fill="#3a8ee0" stroke="#3a8ee0" stroke-width="0.18" font-size="7.2" >Sandringham</text>
<text x="575.00" y="197.50" fill="#3a8ee0" stroke="#3a8ee0" stroke-width="0.18" font-size="7.2" >Greenstone</text>
<text x="376.00" y="270.50" fill="#3a8ee0" stroke="#3a8ee0" stroke-width="0.18" font-size="7.2" >Ellis Park</text>
<text x="409.10" y="274.70" fill="#3a8ee0" stroke="#3a8ee0" stroke-width="0.18" font-size="7.2" >Jeppe</text>
<text x="434.30" y="278.10" fill="#3a8ee0" stroke="#3a8ee0" stroke-width="0.18" font-size="7.2" >Broadway</text>
<text x="470.30" y="276.50" fill="#3a8ee0" stroke="#3a8ee0" stroke-width="0.18" font-size="7.2" >Bedford</text>
<text x="470.30" y="285.90" fill="#3a8ee0" stroke="#3a8ee0" stroke-width="0.18" font-size="7.2" >Gardens</text>
<text x="527.90" y="308.50" fill="#3a8ee0" stroke="#3a8ee0" stroke-width="0.18" font-size="7.2" >Primrose</text>
<text x="586.10" y="299.10" fill="#3a8ee0" stroke="#3a8ee0" stroke-width="0.18" font-size="7.2" >Fischer's Hill</text>
<text x="367.00" y="24.20" fill="#82308a" stroke="#82308a" stroke-width="0.18" font-size="7.2" >Buccleugh</text>
<text x="383.70" y="42.90" fill="#82308a" stroke="#82308a" stroke-width="0.18" font-size="7.2" >Kelvin</text>
<text x="432.60" y="70.20" fill="#82308a" stroke="#82308a" stroke-width="0.18" font-size="7.2" >Alexandra</text>
<text x="432.60" y="82.90" fill="#82308a" stroke="#82308a" stroke-width="0.18" font-size="7.2" >Wynberg</text>
<text x="434.70" y="105.50" fill="#82308a" stroke="#82308a" stroke-width="0.18" font-size="7.2" >Bramley</text>
<text x="436.00" y="133.70" fill="#82308a" stroke="#82308a" stroke-width="0.18" font-size="7.2" >Waverly</text>
<text x="437.00" y="161.40" fill="#82308a" stroke="#82308a" stroke-width="0.18" font-size="7.2" >Orchards</text>
<text x="436.00" y="188.80" fill="#82308a" stroke="#82308a" stroke-width="0.18" font-size="7.2" >Norwood</text>
<text x="428.20" y="210.90" fill="#82308a" stroke="#82308a" stroke-width="0.18" font-size="7.2" >Observatory</text>
<text x="399.00" y="228.20" fill="#82308a" stroke="#82308a" stroke-width="0.18" font-size="7.2" >Berea</text>
<text x="382.30" y="241.80" fill="#82308a" stroke="#82308a" stroke-width="0.18" font-size="7.2" >Hillbrow</text>
<text x="291.70" y="280.20" fill="#82308a" stroke="#82308a" stroke-width="0.18" font-size="7.2" >Newtown</text>
<text x="268.80" y="289.40" fill="#82308a" stroke="#82308a" stroke-width="0.18" font-size="7.2" >Mayfair</text>
<text x="244.00" y="332.50" fill="#82308a" stroke="#82308a" stroke-width="0.18" font-size="7.2" >Gold Reef City</text>
<text x="322.00" y="369.50" fill="#82308a" stroke="#82308a" stroke-width="0.18" font-size="7.2" >Ormonde</text>
<text x="335.50" y="391.00" fill="#82308a" stroke="#82308a" stroke-width="0.18" font-size="7.2" >Mondeor</text>
<path d="M630.9,415.6 L630.9,399.5 Q630.9,396.2 634.2,396.2 L754,396.2 Q757.3,396.2 757.3,399.5 L757.3,415.6 Z" fill="#000"/>
<text x="670.1" y="413.3" fill="#fff" font-size="12.8" font-weight="bold" textLength="46.8" lengthAdjust="spacingAndGlyphs">LEGEND</text>
<path d="M618.6,567 L618.6,417 L780,417 L780,567" fill="none" stroke="#000" stroke-width="3"/>
<line x1="628.5" y1="429.9" x2="657.5" y2="429.9" stroke="#e2202a" stroke-width="3.3" stroke-linecap="round"/>
<text x="662.5" y="433.5" fill="#e2202a" font-size="9.3" font-weight="bold" textLength="80.8" lengthAdjust="spacing">Gauteng Central</text>
<line x1="628.5" y1="444.2" x2="657.5" y2="444.2" stroke="#000" stroke-width="3.3" stroke-linecap="round"/>
<text x="662.5" y="447.8" fill="#000" font-size="9.3" font-weight="bold" textLength="35.5" lengthAdjust="spacing">Airport</text>
<line x1="628.5" y1="458.0" x2="657.5" y2="458.0" stroke="#1f8a1f" stroke-width="3.3" stroke-linecap="round"/>
<text x="662.5" y="461.6" fill="#1f8a1f" font-size="9.3" font-weight="bold" textLength="50.0" lengthAdjust="spacing">Springbok</text>
<line x1="628.5" y1="472.2" x2="657.5" y2="472.2" stroke="#1a8484" stroke-width="3.3" stroke-linecap="round"/>
<text x="662.5" y="475.8" fill="#1a8484" font-size="9.3" font-weight="bold" textLength="37.8" lengthAdjust="spacing">Soweto</text>
<line x1="628.5" y1="486.5" x2="657.5" y2="486.5" stroke="#1f1f82" stroke-width="3.3" stroke-linecap="round"/>
<text x="662.5" y="490.1" fill="#1f1f82" font-size="9.3" font-weight="bold" textLength="53.0" lengthAdjust="spacing">Blue Crane</text>
<line x1="628.5" y1="501.5" x2="657.5" y2="501.5" stroke="#f2874c" stroke-width="3.3" stroke-linecap="round"/>
<text x="662.5" y="505.1" fill="#f2874c" font-size="9.3" font-weight="bold" textLength="24.8" lengthAdjust="spacing">Egoli</text>
<line x1="628.5" y1="516.0" x2="657.5" y2="516.0" stroke="#e83ce8" stroke-width="3.3" stroke-linecap="round"/>
<text x="662.5" y="519.6" fill="#e83ce8" font-size="9.3" font-weight="bold" textLength="37.8" lengthAdjust="spacing">Makeba</text>
<line x1="628.5" y1="529.9" x2="657.5" y2="529.9" stroke="#2e8ae2" stroke-width="3.3" stroke-linecap="round"/>
<text x="662.5" y="533.5" fill="#2e8ae2" font-size="9.3" font-weight="bold" textLength="34.5" lengthAdjust="spacing">Ubuntu</text>
<line x1="628.5" y1="542.9" x2="657.5" y2="542.9" stroke="#7c237f" stroke-width="3.3" stroke-linecap="round"/>
<text x="662.5" y="546.5" fill="#7c237f" font-size="9.3" font-weight="bold" textLength="42.5" lengthAdjust="spacing">Rainbow</text>
<line x1="628" y1="556.5" x2="658" y2="556.5" stroke="#3ee83e" stroke-width="3" stroke-dasharray="2.2,1"/>
<text x="662.5" y="560.1" fill="#3ee83e" font-size="9.3" font-weight="bold" textLength="83.0" lengthAdjust="spacing">Airport Monorail</text>
</svg></body></html>
